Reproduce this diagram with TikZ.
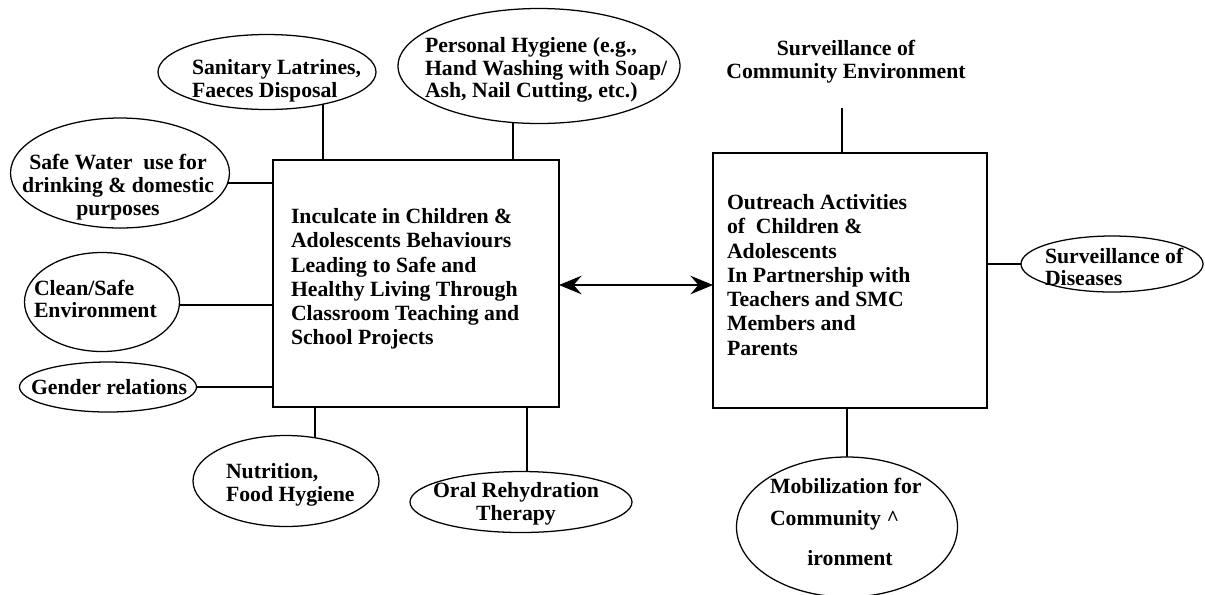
\documentclass[tikz,border=0pt]{standalone}
\usepackage{fontspec}
\setmainfont{Liberation Serif}
\usetikzlibrary{shapes.geometric,arrows.meta,backgrounds}
\begin{document}
\begin{tikzpicture}[x=0.75pt,y=-0.75pt,
  every node/.style={inner sep=0pt, outer sep=0pt},
  lbl/.style={font=\bfseries\fontsize{16.3pt}{17pt}\selectfont, align=left},
  lblc/.style={font=\bfseries\fontsize{16.3pt}{17pt}\selectfont, align=center},
  boxtxt/.style={font=\bfseries\fontsize{16.3pt}{18.2pt}\selectfont, align=left, anchor=west},
  oval/.style={ellipse, draw, line width=0.95pt, fill=white},
  panel/.style={draw, line width=1pt, fill=white},
  link/.style={line width=0.95pt},
  >={Stealth[length=17pt, width=14pt, inset=6pt]},
]
\useasboundingbox (0,0) rectangle (1205,594);

% main boxes
\node[panel, minimum width={286*0.75pt}, minimum height={247*0.75pt}] (lbox) at (416,283.5) {};
\node[panel, minimum width={274*0.75pt}, minimum height={255*0.75pt}] (rbox) at (850,280.5) {};
\node[boxtxt] (lboxt) at (291,279) {Inculcate in Children \&\\Adolescents Behaviours\\Leading to Safe and\\Healthy Living Through\\Classroom Teaching and\\School Projects};
\node[boxtxt] (rboxt) at (727,275) {Outreach Activities\\of~ Children \&\\Adolescents\\In Partnership with\\Teachers and SMC\\Members and\\Parents};

% ellipses
\node[oval, minimum width={218*0.75pt}, minimum height={75*0.75pt}] (sl) at (267,72) {};
\node[lbl, anchor=west] (slt) at (192,81) {Sanitary Latrines,\\Faeces Disposal};

\node[oval, minimum width={282*0.75pt}, minimum height={115*0.75pt}] (ph) at (539,66) {};
\node[lbl, anchor=west] (pht) at (425,70) {Personal Hygiene (e.g.,\\Hand Washing with Soap/\\Ash, Nail Cutting, etc.)};

\node[lblc] (sce) at (846,62) {Surveillance of\\Community Environment};
\coordinate (scefoot) at (842,108);

\node[oval, minimum width={219*0.75pt}, minimum height={110*0.75pt}] (sw) at (120,173) {};
\node[lblc] (swt) at (118,187) {Safe Water~ use for\\drinking \& domestic\\purposes};

\node[oval, minimum width={155*0.75pt}, minimum height={99*0.75pt}] (cs) at (102,302) {};
\node[lbl, anchor=west] (cst) at (34,299) {Clean/Safe\\Environment};

\node[oval, minimum width={177*0.75pt}, minimum height={50*0.75pt}] (gr) at (108,387) {};
\node[lblc] (grt) at (109,387) {Gender relations};

\node[oval, minimum width={186*0.75pt}, minimum height={91*0.75pt}] (nu) at (286,481) {};
\node[lbl, anchor=west] (nut) at (226,485) {Nutrition,\\Food Hygiene};

\node[oval, minimum width={222*0.75pt}, minimum height={61*0.75pt}] (or) at (521,502) {};
\node[lblc] (ort) at (516,504) {Oral Rehydration\\Therapy};

\node[oval, minimum width={221*0.75pt}, minimum height={140*0.75pt}] (mo) at (847,527) {};
\node[lbl, anchor=north west] (mot) at (770,478) {Mobilization for\\[7pt]Community \textasciicircum\\[13pt]\hspace*{28pt}ironment};

\node[oval, minimum width={182*0.75pt}, minimum height={56*0.75pt}] (sd) at (1112,264) {};
\node[lbl, anchor=west] (sdt) at (1045,267) {Surveillance of\\Diseases};

% helper x/y positions for connectors
\coordinate (xsl) at (323,0);
\coordinate (xph) at (513,0);
\coordinate (xnu) at (315,0);
\coordinate (xor) at (527,0);
\coordinate (ysw) at (0,183);
\coordinate (ycs) at (0,305);
\coordinate (yarr) at (0,285);

\begin{scope}[on background layer]
\draw[link] (sl.center -| xsl) -- (lbox.north -| xsl);
\draw[link] (ph.center -| xph) -- (lbox.north -| xph);
\draw[link] (sw.center |- ysw) -- (lbox.west |- ysw);
\draw[link] (cs.center |- ycs) -- (lbox.west |- ycs);
\draw[link] (nu.center -| xnu) -- (lbox.south -| xnu);
\draw[link] (or.center -| xor) -- (lbox.south -| xor);
\end{scope}
\draw[link] (gr.east) -- (lbox.west |- gr.east);
\draw[link] (scefoot) -- (rbox.north -| scefoot);
\draw[link] (sd.west) -- (rbox.east |- sd.west);
\draw[link] (mo.north) -- (rbox.south -| mo.north);
\draw[link, <->] (lbox.east |- yarr) -- (rbox.west |- yarr);
\end{tikzpicture}
\end{document}
